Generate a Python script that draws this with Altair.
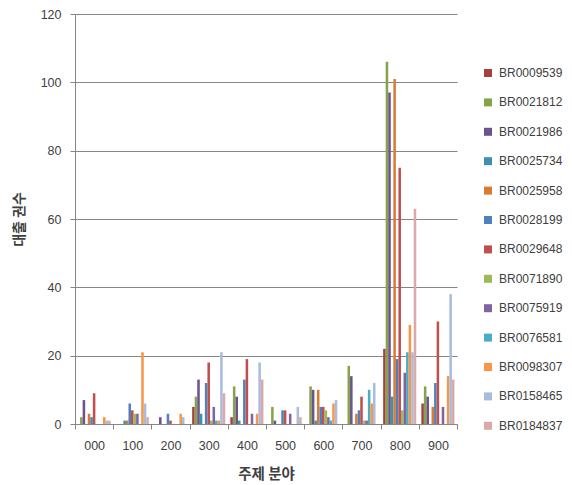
import altair as alt
import pandas as pd

CATEGORIES = ["000", "100", "200", "300", "400", "500", "600", "700", "800", "900"]
SERIES = ["BR0009539", "BR0021812", "BR0021986", "BR0025734", "BR0025958", "BR0028199",
          "BR0029648", "BR0071890", "BR0075919", "BR0076581", "BR0098307", "BR0158465",
          "BR0184837"]

BR0009539 = [0, 0, 0, 5, 2, 0, 0, 0, 22, 6]
BR0021812 = [2, 0, 0, 8, 11, 5, 11, 17, 106, 11]
BR0021986 = [7, 0, 2, 13, 8, 1, 10, 14, 97, 8]
BR0025734 = [0, 1, 0, 3, 1, 0, 1, 0, 8, 0]
BR0025958 = [3, 1, 0, 0, 0, 0, 10, 3, 101, 5]
BR0028199 = [2, 6, 3, 12, 13, 4, 5, 4, 19, 12]
BR0029648 = [9, 4, 1, 18, 19, 4, 5, 8, 75, 30]
BR0071890 = [0, 3, 0, 1, 0, 0, 4, 1, 4, 0]
BR0075919 = [0, 3, 0, 5, 3, 3, 2, 1, 15, 5]
BR0076581 = [0, 0, 0, 1, 0, 0, 1, 10, 21, 0]
BR0098307 = [2, 21, 3, 1, 3, 0, 6, 6, 29, 14]
BR0158465 = [1, 6, 2, 21, 18, 5, 7, 12, 21, 38]
BR0184837 = [1, 2, 0, 9, 13, 2, 0, 0, 63, 13]

VALUES = [BR0009539, BR0021812, BR0021986, BR0025734, BR0025958, BR0028199, BR0029648,
          BR0071890, BR0075919, BR0076581, BR0098307, BR0158465, BR0184837]

COLORS = ["#A6403D", "#86A34A", "#6B5290", "#3E93A9", "#D97B30", "#4F81BD", "#C0504D",
          "#9BBB59", "#8064A2", "#4BACC6", "#F79646", "#A9BCDD", "#DBA9A8"]

rows = []
for name, vals in zip(SERIES, VALUES):
    for cat, v in zip(CATEGORIES, vals):
        rows.append({"분야": cat, "series": name, "value": v})
df = pd.DataFrame(rows)

GRID = "#868686"
TXT = "#404040"
KFONT = "Noto Sans CJK KR"
NFONT = "Liberation Sans"

chart = alt.Chart(df).mark_bar(strokeWidth=0).encode(
    x=alt.X("분야:N", sort=CATEGORIES,
            scale=alt.Scale(paddingInner=0, paddingOuter=0),
            axis=alt.Axis(title="주제 분야", labelAngle=0, grid=False, tickBand="extent",
                          tickSize=5, tickColor=GRID, domainColor=GRID,
                          labelFont=NFONT, labelFontSize=12.5, labelColor=TXT, labelPadding=10,
                          titleFont=KFONT, titleFontSize=14.5, titleFontWeight="bold",
                          titleColor=TXT, titleY=50, titleBaseline="middle")),
    xOffset=alt.XOffset("series:N", sort=SERIES,
                        scale=alt.Scale(paddingInner=0, paddingOuter=1)),
    y=alt.Y("value:Q", scale=alt.Scale(domain=[0, 120], nice=False),
            axis=alt.Axis(title="대출 권수", values=[0, 20, 40, 60, 80, 100, 120],
                          grid=True, gridColor=GRID, tickSize=5, tickColor=GRID,
                          domainColor=GRID, labelFont=NFONT, labelFontSize=12.5,
                          labelColor=TXT, labelPadding=9,
                          titleFont=KFONT, titleFontSize=14, titleFontWeight="bold",
                          titleColor=TXT, titleAngle=270, titleX=-56, titleY=205,
                          titleAlign="center", titleBaseline="middle")),
    color=alt.Color("series:N", sort=SERIES,
                    scale=alt.Scale(domain=SERIES, range=COLORS),
                    legend=alt.Legend(title=None, orient="none", legendX=407, legendY=53,
                                      symbolType="square", symbolSize=64,
                                      symbolStrokeWidth=0, labelFont=NFONT,
                                      labelFontSize=12, labelColor=TXT, labelOffset=5,
                                      rowPadding=17.4, padding=0)),
).properties(
    width=382, height=410,
    autosize=alt.AutoSizeParams(type="none"),
    padding={"left": 67, "top": 6, "right": 107, "bottom": 61},
).configure_view(stroke=None)

chart.save("out.html", embed_options={"renderer": "svg", "actions": False})
